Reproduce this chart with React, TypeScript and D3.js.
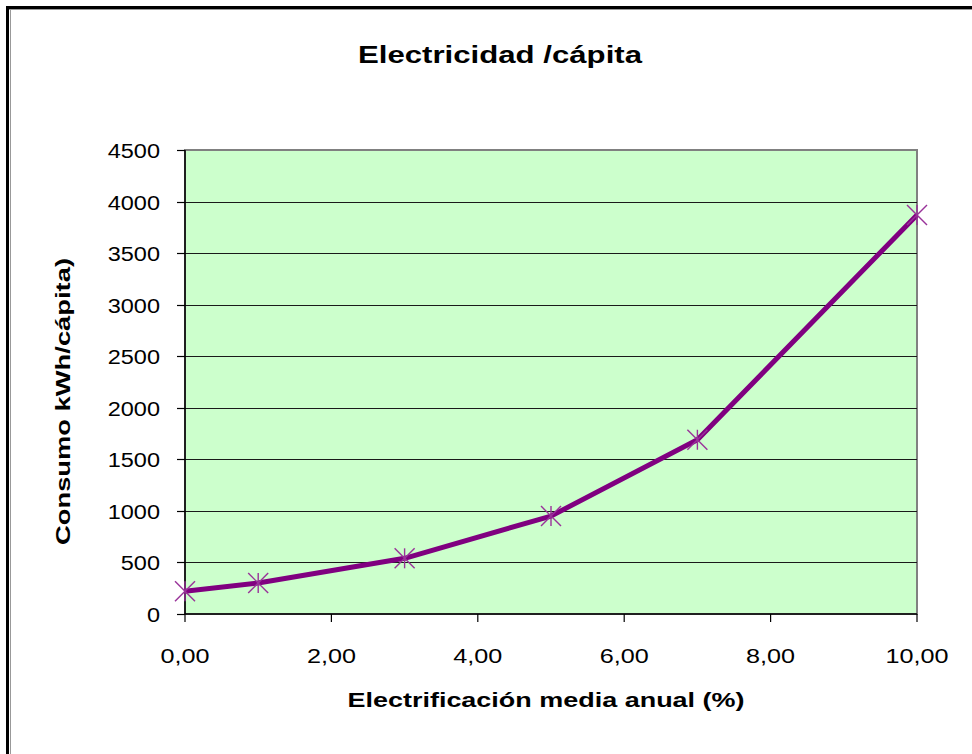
import React from "react";
import * as d3 from "d3";

const xValues = [0, 1, 3, 5, 7, 10];
const yValues = [220, 300, 540, 950, 1690, 3870];
const xTicks = [0, 2, 4, 6, 8, 10];
const yTicks = [0, 500, 1000, 1500, 2000, 2500, 3000, 3500, 4000, 4500];

const W = 972, H = 754;
const L = 185, R = 917, T = 150, B = 614;
const FONT = "'Liberation Sans', Arial, sans-serif";

function SText(props: { x: number; y: number; sx: number; size: number; anchor: string; bold?: boolean; children: any; rotate?: number }) {
  const { x, y, sx, size, anchor, bold, children, rotate } = props;
  return (
    <text
      transform={`translate(${x},${y}) rotate(${rotate || 0}) scale(${sx},1)`}
      textAnchor={anchor}
      fontFamily={FONT}
      fontSize={size}
      fontWeight={bold ? "bold" : "normal"}
      fill="#000"
    >
      {children}
    </text>
  );
}

export default function App() {
  const x = d3.scaleLinear().domain([0, 10]).range([L, R]);
  const y = d3.scaleLinear().domain([0, 4500]).range([B, T]);
  const pts = xValues.map((v, i) => [x(v), y(yValues[i])] as [number, number]);
  const line = d3.line()(pts) || "";
  const fmt = (v: number) => v.toFixed(2).replace(".", ",");
  const m = 10;
  return (
    <svg width={W} height={H} style={{ position: "absolute", left: 0, top: 0, background: "#fff" }}>
      <rect x={0} y={0} width={W} height={H} fill="#fff" />
      {/* outer border */}
      <line x1={7.5} y1={6} x2={7.5} y2={H} stroke="#000" strokeWidth={3} />
      <line x1={6} y1={7.5} x2={W} y2={7.5} stroke="#000" strokeWidth={3} />
      <line x1={10.5} y1={9} x2={10.5} y2={H} stroke="#999" strokeWidth={1} />
      <line x1={9} y1={9.5} x2={W} y2={9.5} stroke="#999" strokeWidth={1} />
      <text x={500} y={63} textAnchor="middle" fontFamily={FONT} fontSize={24} fontWeight="bold" textLength={284} lengthAdjust="spacingAndGlyphs">Electricidad /cápita</text>
      {/* plot area */}
      <rect x={L} y={T} width={R - L} height={B - T} fill="#ccffcc" stroke="#808080" strokeWidth={2} />
      {yTicks.slice(1, -1).map((t) => (
        <line key={t} x1={L} x2={R} y1={Math.round(y(t)) + 0.5} y2={Math.round(y(t)) + 0.5} stroke="#1a1a1a" strokeWidth={1.2} />
      ))}
      {/* axes */}
      <line x1={L} x2={L} y1={T} y2={B} stroke="#000" strokeWidth={1.5} />
      <line x1={L} x2={R} y1={B} y2={B} stroke="#000" strokeWidth={1.5} />
      {yTicks.map((t) => (
        <g key={t}>
          <line x1={L - 8} x2={L} y1={Math.round(y(t)) + 0.5} y2={Math.round(y(t)) + 0.5} stroke="#000" strokeWidth={1.2} />
          <SText x={160} y={y(t) + 8} sx={1.12} size={21} anchor="end">{t}</SText>
        </g>
      ))}
      {xTicks.map((t) => (
        <g key={t}>
          <line x1={x(t)} x2={x(t)} y1={B} y2={B + 8} stroke="#000" strokeWidth={1.2} />
          <SText x={x(t)} y={663} sx={1.2} size={21} anchor="middle">{fmt(t)}</SText>
        </g>
      ))}
      <path d={line} fill="none" stroke="#800080" strokeWidth={5} strokeLinejoin="round" />
      {pts.map(([px, py], i) => (
        <g key={i} stroke="#993399" strokeWidth={1.4}>
          <line x1={px - m} y1={py - m} x2={px + m} y2={py + m} />
          <line x1={px - m} y1={py + m} x2={px + m} y2={py - m} />
          <line x1={px} y1={py - m} x2={px} y2={py + m} />
        </g>
      ))}
      <text x={546} y={707} textAnchor="middle" fontFamily={FONT} fontSize={21} fontWeight="bold" textLength={397} lengthAdjust="spacingAndGlyphs">Electrificación media anual (%)</text>
      <text transform={`translate(70,401.5) rotate(-90)`} textAnchor="middle" fontFamily={FONT} fontSize={21} fontWeight="bold" textLength={287} lengthAdjust="spacingAndGlyphs">Consumo kWh/cápita)</text>
    </svg>
  );
}
